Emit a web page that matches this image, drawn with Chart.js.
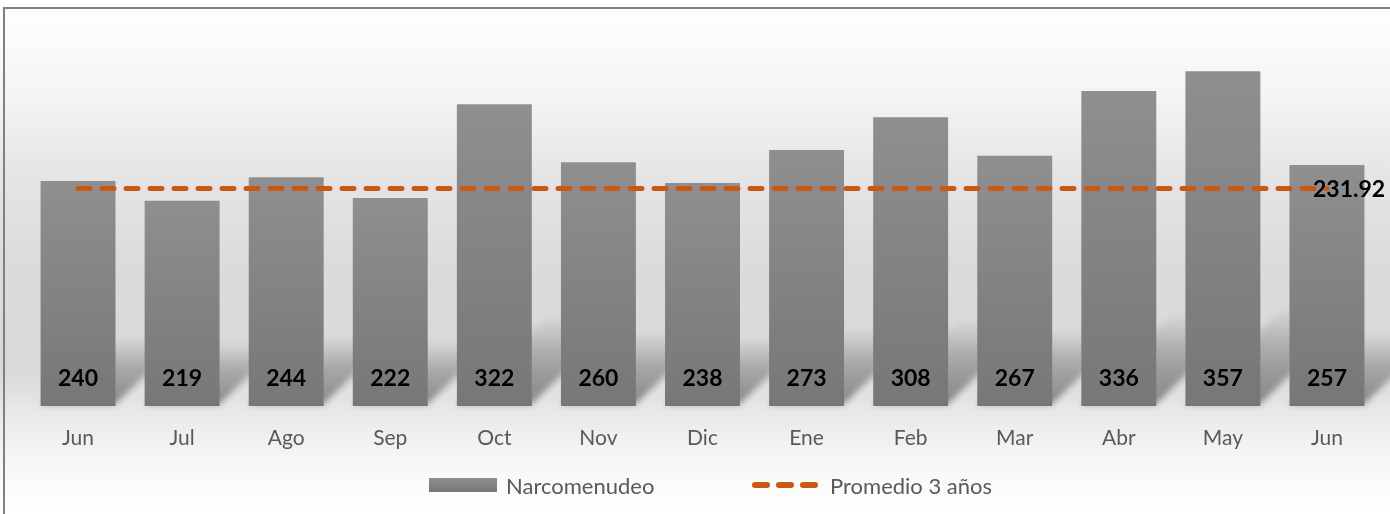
<!DOCTYPE html>
<html>
<head>
<meta charset="utf-8">
<script src="https://cdn.jsdelivr.net/npm/chart.js@4.4.1/dist/chart.umd.min.js"></script>
<style>
  html, body { margin: 0; padding: 0; }
  body {
    width: 1390px; height: 514px; overflow: hidden; position: relative;
    background: linear-gradient(to bottom, #ffffff 0%, #f4f4f4 19%, #e5e5e5 34%, #dbdbdb 52%, #d9d9d9 72%, #e6e6e6 79%, #f0f0f0 85%, #fafafa 93%, #ffffff 100%);
    font-family: Lato, "Open Sans", sans-serif;
  }
  #frame {
    position: absolute; left: 3px; top: 7px; width: 1500px; height: 600px;
    border-top: 2px solid #808080; border-left: 2px solid #808080;
  }
  #chart { position: absolute; left: 0; top: 0; }
  .legend { position: absolute; top: 474px; height: 22px; display: flex; align-items: center;
    font-size: 22px; color: #595959; white-space: nowrap; }
  .swatch { width: 68px; height: 14px; margin-right: 9px;
    background: linear-gradient(to bottom, #8e8e8e, #777777); }
</style>
</head>
<body>
<div id="frame"></div>
<canvas id="chart" width="1390" height="514"></canvas>
<div class="legend" style="left:429px"><span class="swatch"></span><span>Narcomenudeo</span></div>
<div class="legend" style="left:746px">
  <svg width="76" height="10" style="margin-right:8px"><line x1="9" y1="5" x2="69" y2="5" stroke="#c55a11" stroke-width="6" stroke-linecap="round" stroke-dasharray="12 12"/></svg>
  <span>Promedio 3 años</span>
</div>
<script>
const months = ['Jun', 'Jul', 'Ago', 'Sep', 'Oct', 'Nov', 'Dic', 'Ene', 'Feb', 'Mar', 'Abr', 'May', 'Jun'];
const narcomenudeo = [240, 219, 244, 222, 322, 260, 238, 273, 308, 267, 336, 357, 257];
const promedio = 231.92;
const promedioLine = months.map(() => promedio);

// slanted shadow behind each bar
const barShadows = {
  id: 'barShadows',
  beforeDatasetsDraw(chart) {
    const ctx = chart.ctx;
    const meta = chart.getDatasetMeta(1);
    ctx.save();
    ctx.filter = 'blur(3px)';
    meta.data.forEach(bar => {
      const x0 = bar.x - bar.width / 2, x1 = bar.x + bar.width / 2;
      const bottom = bar.base;
      const h = (bar.base - bar.y) * 0.28 + 6;
      const g = ctx.createLinearGradient(0, bottom, 0, bottom - h);
      g.addColorStop(0, 'rgba(0,0,0,0.42)');
      g.addColorStop(0.6, 'rgba(0,0,0,0.2)');
      g.addColorStop(1, 'rgba(0,0,0,0)');
      ctx.fillStyle = g;
      ctx.beginPath();
      ctx.moveTo(x0, bottom - 2);
      ctx.lineTo(x1, bottom - 2);
      ctx.lineTo(x1 + h, bottom - h);
      ctx.lineTo(x0 + h, bottom - h);
      ctx.closePath();
      ctx.fill();
    });
    ctx.restore();
  }
};

// value labels near the bottom of each bar, and the average label
const valueLabels = {
  id: 'valueLabels',
  afterDatasetsDraw(chart) {
    const ctx = chart.ctx;
    ctx.save();
    ctx.font = 'bold 23px Lato';
    ctx.fillStyle = '#000';
    ctx.textAlign = 'center';
    ctx.textBaseline = 'middle';
    chart.getDatasetMeta(1).data.forEach((bar, i) => {
      ctx.fillText(narcomenudeo[i], bar.x, bar.base - 27);
    });
    const pts = chart.getDatasetMeta(0).data;
    const last = pts[pts.length - 1];
    ctx.textAlign = 'left';
    ctx.fillText(promedio.toFixed(2), last.x - 14, last.y + 1);
    ctx.restore();
  }
};

const ctx = document.getElementById('chart').getContext('2d');
new Chart(ctx, {
  data: {
    labels: months,
    datasets: [{
      type: 'line',
      label: 'Promedio 3 años',
      data: promedioLine,
      borderColor: '#c55a11',
      borderWidth: 5,
      borderDash: [12, 12],
      borderCapStyle: 'round',
      pointRadius: 0,
      order: 0
    }, {
      type: 'bar',
      label: 'Narcomenudeo',
      data: narcomenudeo,
      backgroundColor: c => {
        const chart = c.chart;
        const y = chart.scales.y;
        if (c.type !== 'data' || !y) return '#858585';
        const top = y.getPixelForValue(c.raw);
        const bottom = y.getPixelForValue(0);
        if (!isFinite(top) || !isFinite(bottom)) return '#858585';
        const g = chart.ctx.createLinearGradient(0, top, 0, bottom);
        g.addColorStop(0, '#8f8f8f');
        g.addColorStop(1, '#777777');
        return g;
      },
      barPercentage: 0.72,
      categoryPercentage: 1,
      order: 1
    }]
  },
  options: {
    responsive: false,
    animation: false,
    layout: { padding: { left: 26, right: 11, top: 31, bottom: 0 } },
    scales: {
      x: {
        grid: { display: false, drawTicks: false },
        border: { display: false },
        ticks: { color: '#595959', font: { family: 'Lato', size: 21 }, padding: 20 },
        afterFit: s => { s.height = 108; }
      },
      y: {
        display: false,
        min: 0,
        max: 400
      }
    },
    plugins: {
      legend: { display: false },
      tooltip: { enabled: false }
    }
  },
  plugins: [barShadows, valueLabels]
});
</script>
</body>
</html>
